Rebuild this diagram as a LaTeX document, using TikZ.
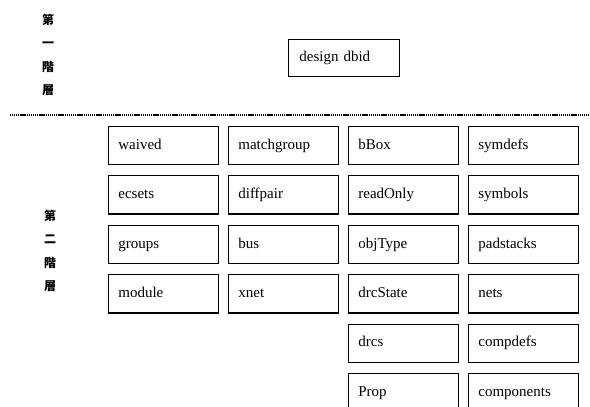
\documentclass[tikz,border=0pt]{standalone}
\usepackage{fontspec}
\setmainfont{Liberation Serif}
\newfontfamily\cjk{Noto Sans CJK TC}
\begin{document}
\begin{tikzpicture}[x=1pt,y=-1pt,
  itembox/.style={draw, line width=0.7pt, rectangle, anchor=north west,
    minimum width=110pt, minimum height=38pt, inner xsep=10pt, inner ysep=0pt,
    text width=90pt, text height=10pt, text depth=2pt, align=left,
    font=\fontsize{15}{17}\selectfont},
  layerlabel/.style={align=center, inner sep=0pt,
    font=\cjk\bfseries\fontsize{12}{23.3}\selectfont},
  sepline/.style={line width=1.8pt, dash pattern=on 1.2pt off 0.7pt},
  heavyedge/.style={line width=1.2pt}]
\useasboundingbox (0,0) rectangle (590,407);
\clip (0,0) rectangle (590,407);
\fill[white] (0,0) rectangle (590,407);

% layer labels
\node[layerlabel] (l1) at (48,55) {第\\一\\階\\層};
\node[layerlabel] (l2) at (50,251) {第\\二\\階\\層};

% separator
\coordinate (sepL) at (10,115);
\coordinate (sepR) at (590,115);
\draw[sepline] (sepL) -- (sepR);

% top node
\node[itembox, minimum width=109pt, minimum height=37pt, text width=89pt, inner xsep=11pt] (dbid) at (288,39) {design dbid};

% columns
\node[itembox] (waived) at (108,126) {waived};
\node[itembox] (ecsets) at (108,175.4) {ecsets};
\node[itembox] (groups) at (108,224.8) {groups};
\node[itembox] (module) at (108,274.2) {module};

\node[itembox] (matchgroup) at (228,126) {matchgroup};
\node[itembox] (diffpair) at (228,175.4) {diffpair};
\node[itembox] (bus) at (228,224.8) {bus};
\node[itembox] (xnet) at (228,274.2) {xnet};

\node[itembox] (bBox) at (348,126) {bBox};
\node[itembox] (readOnly) at (348,175.4) {readOnly};
\node[itembox] (objType) at (348,224.8) {objType};
\node[itembox] (drcState) at (348,274.2) {drcState};
\node[itembox] (drcs) at (348,323.6) {drcs};
\node[itembox] (Prop) at (348,373) {Prop};

\node[itembox] (symdefs) at (468,126) {symdefs};
\node[itembox] (symbols) at (468,175.4) {symbols};
\node[itembox] (padstacks) at (468,224.8) {padstacks};
\node[itembox] (nets) at (468,274.2) {nets};
\node[itembox] (compdefs) at (468,323.6) {compdefs};
\node[itembox] (components) at (468,373) {components};

% heavier right and bottom edges
\foreach \n in {dbid,waived,ecsets,groups,module,matchgroup,diffpair,bus,xnet,
  bBox,readOnly,objType,drcState,drcs,Prop,symdefs,symbols,padstacks,nets,compdefs,components}
  \draw[heavyedge] (\n.north east) -- (\n.south east) -- (\n.south west);
\end{tikzpicture}
\end{document}
